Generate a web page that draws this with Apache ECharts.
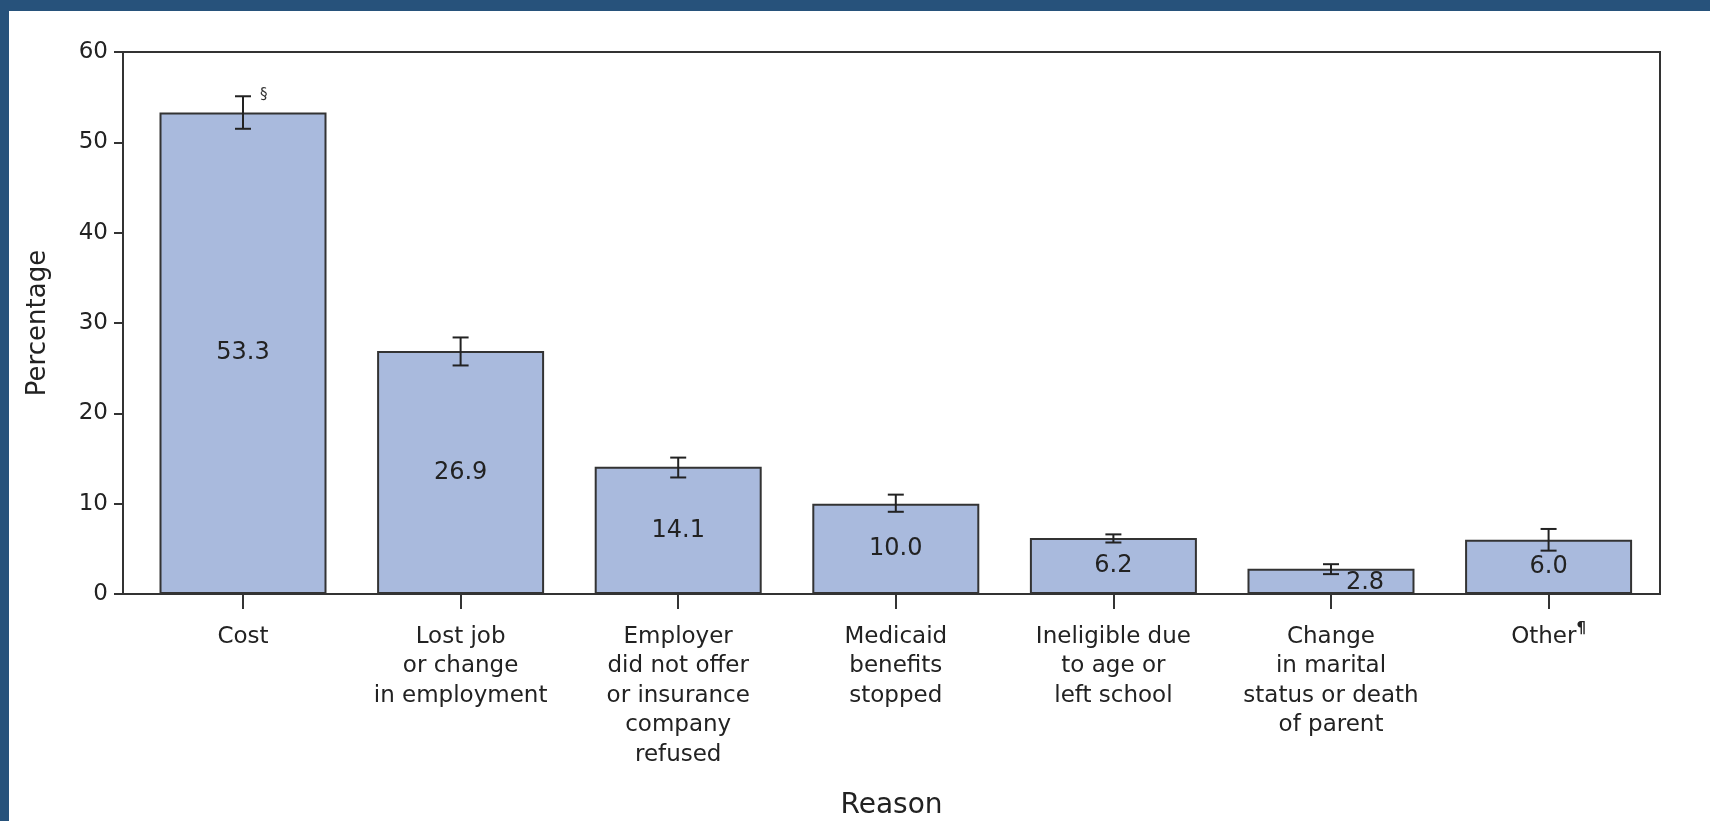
<!DOCTYPE html>
<html>
<head>
<meta charset="utf-8">
<title>Reasons for no health insurance</title>
<script src="https://cdn.jsdelivr.net/npm/echarts@6/dist/echarts.min.js"></script>
<style>
  html, body { margin: 0; padding: 0; background: #27527b; }
  #chartBar { position: absolute; left: 9px; top: 11px; width: 1701px; height: 810px; background: #fff; }
</style>
</head>
<body>
<div id="chartBar"></div>
<script>
// values
const reasons = [
  'Cost',
  'Lost job\nor change\nin employment',
  'Employer\ndid not offer\nor insurance\ncompany\nrefused',
  'Medicaid\nbenefits\nstopped',
  'Ineligible due\nto age or\nleft school',
  'Change\nin marital\nstatus or death\nof parent',
  'Other'
]
const labelMarks = ['', '', '', '', '', '', '¶']
const barMarks = ['§', '', '', '', '', '', '']
const percent = [53.3, 26.9, 14.1, 10.0, 6.2, 2.8, 6.0]
const lower = [51.5, 25.3, 12.9, 9.1, 5.7, 2.2, 4.8]
const upper = [55.1, 28.4, 15.1, 11.0, 6.6, 3.3, 7.2]
const yTicks = [0, 10, 20, 30, 40, 50, 60]

const font = "'DejaVu Sans', Verdana, sans-serif"
const ink = '#222'
const idx = reasons.map((_, i) => i)

let chartBar = echarts.init(document.getElementById('chartBar'))

chartBar.setOption({
  animation: false,
  textStyle: { fontFamily: font, color: ink },
  grid: {
    left: 114,
    right: 50,
    top: 41,
    bottom: 227,
    outerBoundsMode: 'none',
    show: true,
    borderColor: '#333',
    borderWidth: 2,
    backgroundColor: 'transparent'
  },
  xAxis: {
    type: 'value',
    min: -0.5515,
    max: 6.512,
    name: 'Reason',
    nameLocation: 'middle',
    nameGap: 198,
    nameTextStyle: { fontSize: 28, color: ink, fontFamily: font },
    axisLine: { show: true, onZero: false, lineStyle: { color: '#333', width: 2 } },
    axisTick: { show: true, customValues: idx, length: 15, lineStyle: { color: '#333', width: 2 } },
    axisLabel: {
      customValues: idx,
      margin: 28,
      fontSize: 23,
      lineHeight: 29.5,
      color: ink,
      formatter: v => {
        const i = Math.round(v)
        return labelMarks[i] ? reasons[i] + '{sup|' + labelMarks[i] + '}' : reasons[i]
      },
      rich: {
        sup: { fontSize: 15, color: ink, fontFamily: font, fontWeight: 'bold', verticalAlign: 'top', padding: [0, 0, 14, 0] }
      }
    },
    splitLine: { show: false }
  },
  yAxis: {
    type: 'value',
    min: yTicks[0],
    max: yTicks[yTicks.length - 1],
    interval: 10,
    name: 'Percentage',
    nameLocation: 'middle',
    nameGap: 72,
    nameTextStyle: { fontSize: 26, color: ink, fontFamily: font },
    axisLine: { show: true, onZero: false, lineStyle: { color: '#333', width: 2 } },
    axisTick: { show: true, length: 9, lineStyle: { color: '#333', width: 2 } },
    axisLabel: { margin: 15, fontSize: 23, color: ink },
    splitLine: { show: false }
  },
  series: [
    {
      type: 'bar',
      barWidth: 167,
      data: percent.map((v, i) => {
        const item = { value: [i, v] }
        if (i === 5) item.label = { offset: [34, 1] }
        return item
      }),
      itemStyle: { color: '#a9badd', borderColor: '#333', borderWidth: 2 },
      label: {
        show: true,
        position: 'inside',
        fontSize: 24,
        color: ink,
        fontFamily: font,
        formatter: p => p.value[1].toFixed(1)
      }
    },
    {
      type: 'custom',
      encode: { x: 0, y: [1, 2] },
      data: idx.map(i => [i, lower[i], upper[i]]),
      z: 5,
      renderItem: (params, api) => {
        const i = api.value(0)
        const top = api.coord([i, api.value(2)])
        const bot = api.coord([i, api.value(1)])
        const w = 8
        const st = { stroke: '#222', lineWidth: 2 }
        const kids = [
          { type: 'line', shape: { x1: top[0], y1: top[1], x2: bot[0], y2: bot[1] }, style: st },
          { type: 'line', shape: { x1: top[0] - w, y1: top[1], x2: top[0] + w, y2: top[1] }, style: st },
          { type: 'line', shape: { x1: bot[0] - w, y1: bot[1], x2: bot[0] + w, y2: bot[1] }, style: st }
        ]
        if (barMarks[i]) {
          kids.push({
            type: 'text',
            style: {
              text: barMarks[i], x: top[0] + 17, y: top[1] - 1,
              verticalAlign: 'middle', fontSize: 15, fontFamily: font, fill: '#333'
            }
          })
        }
        return { type: 'group', children: kids }
      }
    }
  ]
})
</script>
</body>
</html>
